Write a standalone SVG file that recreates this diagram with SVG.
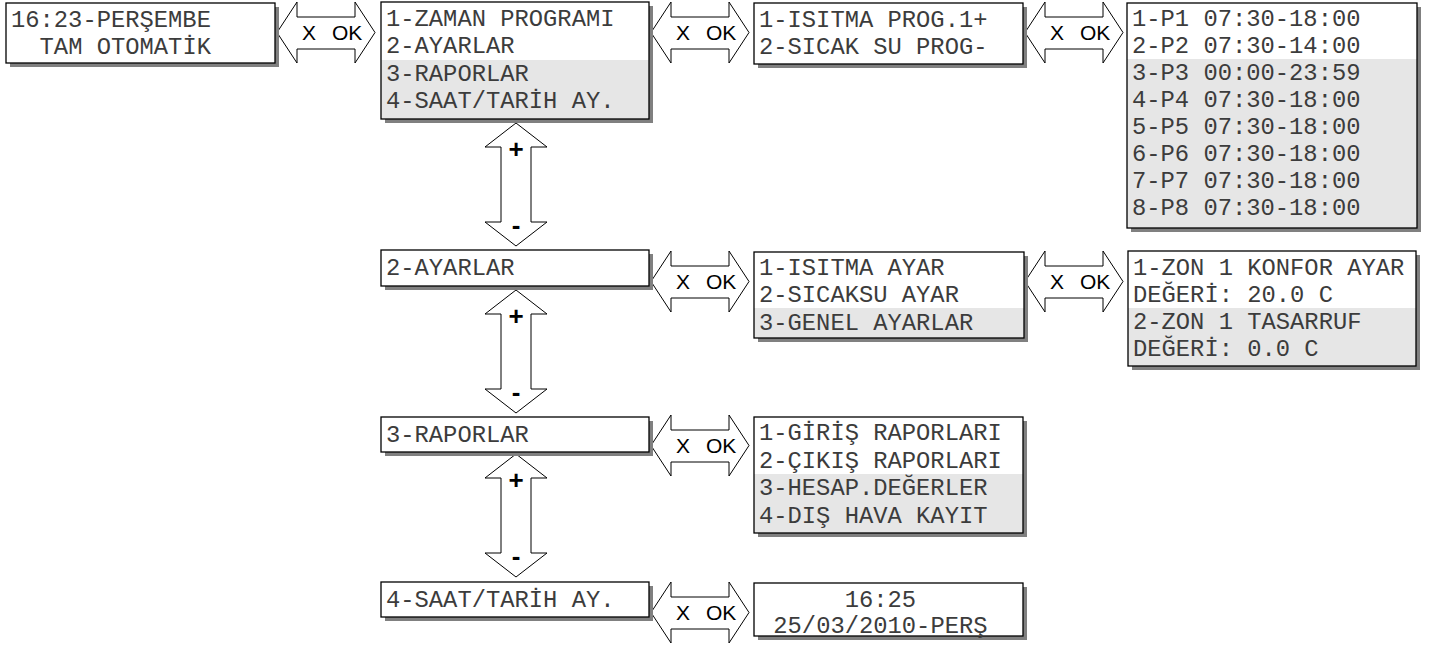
<svg xmlns="http://www.w3.org/2000/svg" xmlns:xlink="http://www.w3.org/1999/xlink" width="1436" height="646" viewBox="0 0 1436 646">
<style>
.sh{fill:#808080}
.bx{fill:#fff}
.hl{fill:#e6e6e6}
.bd{fill:none;stroke:#000;stroke-width:1.3}
.t{font-family:"Liberation Mono","Courier New",monospace;font-size:23.8px;fill:#3c3c3c}
.ar{fill:#fff;stroke:#000;stroke-width:1}
.al{font-family:"Liberation Sans",Arial,sans-serif;font-size:21px;fill:#000}
.pm{font-family:"Liberation Sans",Arial,sans-serif;font-size:26px;font-weight:bold;fill:#000;text-anchor:middle}
</style>
<defs>
<path id="ha" d="M0,30.5 L20,0 L20,15 L78,15 L78,0 L98,30.5 L78,61 L78,47 L20,47 L20,61 Z"/>
<path id="va" d="M0,0 L31,24 L15,24 L15,99 L31,99 L0,123 L-31,99 L-15,99 L-15,24 L-31,24 Z"/>
</defs>
<rect width="1436" height="646" fill="#fff"/>
<g id="connectors">
<g transform="translate(277,2)"><use xlink:href="#ha" class="ar"/><text class="al" x="25" y="38">X</text><text class="al" x="55" y="38">OK</text></g>
<g transform="translate(651,2)"><use xlink:href="#ha" class="ar"/><text class="al" x="25" y="38">X</text><text class="al" x="55" y="38">OK</text></g>
<g transform="translate(1025,2)"><use xlink:href="#ha" class="ar"/><text class="al" x="25" y="38">X</text><text class="al" x="55" y="38">OK</text></g>
<g transform="translate(651,251)"><use xlink:href="#ha" class="ar"/><text class="al" x="25" y="38">X</text><text class="al" x="55" y="38">OK</text></g>
<g transform="translate(1025,251)"><use xlink:href="#ha" class="ar"/><text class="al" x="25" y="38">X</text><text class="al" x="55" y="38">OK</text></g>
<g transform="translate(651,415)"><use xlink:href="#ha" class="ar"/><text class="al" x="25" y="38">X</text><text class="al" x="55" y="38">OK</text></g>
<g transform="translate(651,582)"><use xlink:href="#ha" class="ar"/><text class="al" x="25" y="38">X</text><text class="al" x="55" y="38">OK</text></g>
<g transform="translate(516,123)"><use xlink:href="#va" class="ar"/><text class="pm" x="0" y="35">+</text><text class="pm" x="0" y="111">-</text></g>
<g transform="translate(516,290)"><use xlink:href="#va" class="ar"/><text class="pm" x="0" y="35">+</text><text class="pm" x="0" y="111">-</text></g>
<g transform="translate(516,454)"><use xlink:href="#va" class="ar"/><text class="pm" x="0" y="35">+</text><text class="pm" x="0" y="111">-</text></g>
</g>
<g id="n_main">
<rect class="sh" x="10" y="7" width="269" height="60"/><rect class="bx" x="6" y="3" width="269" height="60"/><rect class="bd" x="6" y="3" width="269" height="60"/>
<text class="t" x="11" y="26.5">16:23-PERŞEMBE</text>
<text class="t" x="39.6" y="54">TAM OTOMATİK</text>
</g>
<g id="n_menu">
<rect class="sh" x="385" y="6" width="268" height="117"/><rect class="bx" x="381" y="2" width="268" height="117"/><rect class="hl" x="381" y="60" width="268" height="59"/><rect class="bd" x="381" y="2" width="268" height="117"/>
<text class="t" x="386" y="25.5">1-ZAMAN PROGRAMI</text>
<text class="t" x="386" y="53">2-AYARLAR</text>
<text class="t" x="386" y="80.5">3-RAPORLAR</text>
<text class="t" x="386" y="108">4-SAAT/TARİH AY.</text>
</g>
<g id="n_prog">
<rect class="sh" x="758" y="7" width="269" height="61"/><rect class="bx" x="754" y="3" width="269" height="61"/><rect class="bd" x="754" y="3" width="269" height="61"/>
<text class="t" x="759" y="26.5">1-ISITMA PROG.1+</text>
<text class="t" x="759" y="54">2-SICAK SU PROG-</text>
</g>
<g id="n_periods">
<rect class="sh" x="1131" y="7" width="290" height="225"/><rect class="bx" x="1127" y="3" width="290" height="225"/><rect class="hl" x="1127" y="59" width="290" height="169"/><rect class="bd" x="1127" y="3" width="290" height="225"/>
<text class="t" x="1132" y="25.5">1-P1 07:30-18:00</text>
<text class="t" x="1132" y="52.6">2-P2 07:30-14:00</text>
<text class="t" x="1132" y="79.7">3-P3 00:00-23:59</text>
<text class="t" x="1132" y="106.8">4-P4 07:30-18:00</text>
<text class="t" x="1132" y="133.9">5-P5 07:30-18:00</text>
<text class="t" x="1132" y="161">6-P6 07:30-18:00</text>
<text class="t" x="1132" y="188.1">7-P7 07:30-18:00</text>
<text class="t" x="1132" y="215.2">8-P8 07:30-18:00</text>
</g>
<g id="n_ayarlar">
<rect class="sh" x="385" y="254" width="268" height="36"/><rect class="bx" x="381" y="250" width="268" height="36"/><rect class="bd" x="381" y="250" width="268" height="36"/>
<text class="t" x="386" y="275">2-AYARLAR</text>
</g>
<g id="n_ayar_sub">
<rect class="sh" x="758" y="256" width="270" height="86"/><rect class="bx" x="754" y="252" width="270" height="86"/><rect class="hl" x="754" y="308" width="270" height="30"/><rect class="bd" x="754" y="252" width="270" height="86"/>
<text class="t" x="759" y="275">1-ISITMA AYAR</text>
<text class="t" x="759" y="302.3">2-SICAKSU AYAR</text>
<text class="t" x="759" y="329.6">3-GENEL AYARLAR</text>
</g>
<g id="n_zon">
<rect class="sh" x="1132" y="255" width="288" height="115"/><rect class="bx" x="1128" y="251" width="288" height="115"/><rect class="hl" x="1128" y="308" width="288" height="58"/><rect class="bd" x="1128" y="251" width="288" height="115"/>
<text class="t" x="1133" y="274.5">1-ZON 1 KONFOR AYAR</text>
<text class="t" x="1133" y="301.5">DEĞERİ: 20.0 C</text>
<text class="t" x="1133" y="328.5">2-ZON 1 TASARRUF</text>
<text class="t" x="1133" y="355.5">DEĞERİ: 0.0 C</text>
</g>
<g id="n_raporlar">
<rect class="sh" x="385" y="421" width="268" height="35"/><rect class="bx" x="381" y="417" width="268" height="35"/><rect class="bd" x="381" y="417" width="268" height="35"/>
<text class="t" x="386" y="441.5">3-RAPORLAR</text>
</g>
<g id="n_rapor_sub">
<rect class="sh" x="758" y="421" width="269" height="116"/><rect class="bx" x="754" y="417" width="269" height="116"/><rect class="hl" x="754" y="474" width="269" height="59"/><rect class="bd" x="754" y="417" width="269" height="116"/>
<text class="t" x="759" y="440">1-GİRİŞ RAPORLARI</text>
<text class="t" x="759" y="467.5">2-ÇIKIŞ RAPORLARI</text>
<text class="t" x="759" y="495">3-HESAP.DEĞERLER</text>
<text class="t" x="759" y="522.5">4-DIŞ HAVA KAYIT</text>
</g>
<g id="n_saat">
<rect class="sh" x="385" y="586" width="268" height="35"/><rect class="bx" x="381" y="582" width="268" height="35"/><rect class="bd" x="381" y="582" width="268" height="35"/>
<text class="t" x="386" y="606.5">4-SAAT/TARİH AY.</text>
</g>
<g id="n_saat_sub">
<rect class="sh" x="758" y="587" width="269" height="53"/><rect class="bx" x="754" y="583" width="269" height="53"/><rect class="bd" x="754" y="583" width="269" height="53"/>
<text class="t" x="844.7" y="607">16:25</text>
<text class="t" x="773.3" y="632.5">25/03/2010-PERŞ</text>
</g>
</svg>
